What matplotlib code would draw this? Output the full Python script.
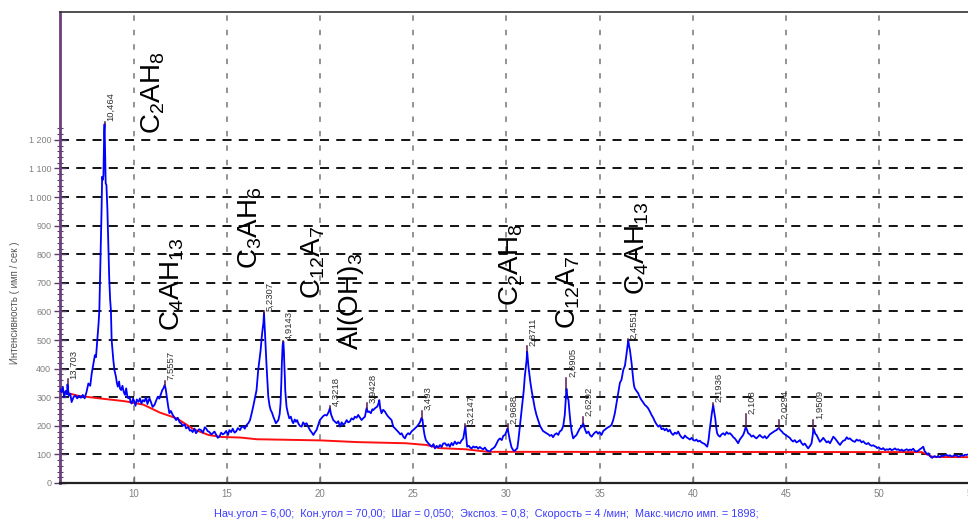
import matplotlib
matplotlib.use('Agg')
import matplotlib.pyplot as plt
import numpy as np
from matplotlib.ticker import FixedLocator, FixedFormatter

# ---------------- data ----------------
two_theta = [6.00, 6.10, 6.18, 6.25, 6.33, 6.40, 6.43, 6.50, 6.58, 6.65, 6.75, 6.85, 6.95, 7.05, 7.15, 7.25,
             7.35, 7.45, 7.55, 7.65, 7.73, 7.82, 7.90, 7.96, 8.03, 8.10, 8.14, 8.18, 8.22, 8.26, 8.29, 8.33,
             8.36, 8.40, 8.42, 8.45, 8.48, 8.52, 8.57, 8.62, 8.67, 8.72, 8.76, 8.80, 8.85, 8.89, 8.95, 9.03,
             9.08, 9.13, 9.20, 9.25, 9.31, 9.38, 9.45, 9.52, 9.58, 9.65, 9.70, 9.76, 9.82, 9.88, 9.95, 10.00,
             10.08, 10.15, 10.25, 10.32, 10.40, 10.48, 10.56, 10.65, 10.72, 10.83, 10.90, 11.00, 11.10, 11.20,
             11.28, 11.36, 11.46, 11.52, 11.58, 11.65, 11.70, 11.76, 11.83, 11.90, 11.98, 12.08, 12.16, 12.26,
             12.35, 12.45, 12.53, 12.62, 12.72, 12.80, 12.90, 13.00, 13.07, 13.15, 13.25, 13.33, 13.42, 13.50,
             13.60, 13.70, 13.80, 13.87, 13.95, 14.05, 14.15, 14.23, 14.32, 14.42, 14.50, 14.59, 14.68, 14.77,
             14.86, 14.95, 15.05, 15.12, 15.22, 15.30, 15.40, 15.48, 15.58, 15.69, 15.78, 15.87, 15.95, 16.05,
             16.15, 16.23, 16.32, 16.40, 16.50, 16.58, 16.67, 16.75, 16.80, 16.86, 16.90, 16.95, 16.98, 17.02,
             17.05, 17.09, 17.12, 17.17, 17.21, 17.28, 17.34, 17.41, 17.48, 17.55, 17.62, 17.68, 17.75, 17.82,
             17.87, 17.91, 17.94, 17.98, 18.02, 18.05, 18.07, 18.10, 18.12, 18.16, 18.19, 18.26, 18.34, 18.42,
             18.50, 18.55, 18.63, 18.70, 18.76, 18.82, 18.90, 19.00, 19.08, 19.16, 19.27, 19.36, 19.45, 19.55,
             19.63, 19.72, 19.80, 19.90, 19.98, 20.08, 20.16, 20.25, 20.35, 20.45, 20.52, 20.58, 20.65, 20.70,
             20.80, 20.88, 20.97, 21.06, 21.15, 21.24, 21.33, 21.42, 21.50, 21.59, 21.68, 21.78, 21.86, 21.95,
             22.04, 22.12, 22.22, 22.30, 22.40, 22.49, 22.56, 22.63, 22.72, 22.80, 22.85, 22.95, 23.06, 23.12,
             23.17, 23.22, 23.29, 23.38, 23.47, 23.56, 23.65, 23.74, 23.83, 23.92, 24.00, 24.10, 24.20, 24.30,
             24.37, 24.46, 24.55, 24.63, 24.72, 24.80, 24.90, 25.00, 25.08, 25.17, 25.26, 25.35, 25.44, 25.49,
             25.53, 25.60, 25.67, 25.73, 25.80, 25.89, 25.98, 26.08, 26.16, 26.25, 26.33, 26.43, 26.52, 26.60,
             26.70, 26.80, 26.88, 26.96, 27.05, 27.13, 27.23, 27.32, 27.40, 27.50, 27.58, 27.68, 27.74, 27.79,
             27.84, 27.89, 27.98, 28.05, 28.13, 28.22, 28.30, 28.39, 28.48, 28.57, 28.66, 28.75, 28.84, 28.93,
             29.02, 29.11, 29.20, 29.30, 29.38, 29.47, 29.56, 29.65, 29.75, 29.83, 29.92, 30.00, 30.06, 30.12,
             30.18, 30.27, 30.36, 30.45, 30.52, 30.58, 30.64, 30.68, 30.75, 30.81, 30.87, 30.93, 30.98, 31.04,
             31.08, 31.11, 31.15, 31.18, 31.23, 31.29, 31.36, 31.44, 31.52, 31.61, 31.70, 31.80, 31.88, 31.96,
             32.05, 32.15, 32.25, 32.33, 32.42, 32.50, 32.60, 32.69, 32.78, 32.86, 32.96, 33.05, 33.13, 33.18,
             33.22, 33.27, 33.33, 33.38, 33.44, 33.50, 33.58, 33.66, 33.76, 33.85, 33.94, 34.03, 34.12, 34.20,
             34.30, 34.40, 34.48, 34.57, 34.66, 34.74, 34.83, 34.92, 35.00, 35.10, 35.20, 35.28, 35.37, 35.46,
             35.55, 35.64, 35.73, 35.82, 35.91, 36.00, 36.09, 36.18, 36.27, 36.36, 36.45, 36.50, 36.54, 36.58,
             36.63, 36.68, 36.72, 36.77, 36.81, 36.85, 36.89, 36.98, 37.07, 37.16, 37.25, 37.34, 37.43, 37.52,
             37.61, 37.70, 37.79, 37.88, 37.97, 38.06, 38.15, 38.24, 38.33, 38.42, 38.50, 38.59, 38.68, 38.77,
             38.86, 38.95, 39.04, 39.13, 39.22, 39.31, 39.40, 39.49, 39.58, 39.67, 39.76, 39.85, 39.94, 40.03,
             40.12, 40.20, 40.29, 40.38, 40.47, 40.56, 40.65, 40.73, 40.78, 40.85, 40.91, 40.96, 41.03, 41.10,
             41.15, 41.21, 41.26, 41.31, 41.38, 41.46, 41.55, 41.64, 41.73, 41.82, 41.91, 42.00, 42.09, 42.18,
             42.26, 42.35, 42.44, 42.53, 42.62, 42.71, 42.78, 42.85, 42.91, 42.98, 43.07, 43.16, 43.25, 43.34,
             43.42, 43.51, 43.60, 43.69, 43.78, 43.87, 43.96, 44.05, 44.14, 44.23, 44.32, 44.41, 44.50, 44.57,
             44.64, 44.72, 44.79, 44.86, 44.95, 45.04, 45.12, 45.21, 45.30, 45.39, 45.48, 45.57, 45.66, 45.76,
             45.84, 45.93, 46.02, 46.12, 46.20, 46.30, 46.38, 46.44, 46.48, 46.52, 46.58, 46.65, 46.74, 46.83,
             46.92, 47.01, 47.10, 47.19, 47.28, 47.37, 47.46, 47.55, 47.64, 47.73, 47.82, 47.91, 48.00, 48.09,
             48.18, 48.27, 48.35, 48.44, 48.53, 48.62, 48.71, 48.80, 48.89, 48.98, 49.07, 49.16, 49.25, 49.34,
             49.43, 49.52, 49.61, 49.70, 49.78, 49.84, 49.90, 49.98, 50.05, 50.14, 50.23, 50.32, 50.41, 50.50,
             50.59, 50.68, 50.77, 50.86, 50.95, 51.04, 51.13, 51.22, 51.31, 51.40, 51.49, 51.58, 51.67, 51.75,
             51.84, 51.93, 52.02, 52.11, 52.20, 52.29, 52.38, 52.45, 52.52, 52.58, 52.65, 52.72, 52.80, 52.86,
             52.92, 53.00, 53.10, 53.18, 53.27, 53.36, 53.45, 53.54, 53.63, 53.72, 53.81, 53.90, 53.99, 54.08,
             54.17, 54.26, 54.35, 54.44, 54.53, 54.62, 54.70, 54.78]

intensity = [330, 318, 335, 300, 322, 310, 345, 305, 312, 283, 300, 306, 296, 305, 298, 308,
             296, 318, 348, 340, 383, 418, 447, 440, 500, 560, 605, 721, 844, 960, 1071, 1060,
             1077, 1230, 1255, 1150, 1048, 1042, 960, 838, 716, 640, 605, 500, 460, 430, 395, 372,
             350, 337, 355, 330, 325, 340, 318, 308, 331, 300, 296, 302, 282, 278, 295, 288,
             270, 292, 284, 296, 278, 290, 285, 300, 276, 296, 285, 266, 273, 290,
             302, 295, 314, 325, 331, 343, 330, 302, 270, 244, 252, 238, 230, 220,
             228, 212, 209, 200, 205, 191, 196, 183, 185, 178, 190, 174, 182, 188,
             185, 176, 195, 191, 182, 178, 170, 174, 180, 168, 158, 162, 176, 170,
             174, 182, 168, 185, 178, 190, 176, 180, 192, 185, 196, 197, 190, 203,
             210, 220, 244, 267, 300, 325, 395, 440, 465, 510, 535, 560, 595, 540,
             500, 450, 407, 350, 302, 270, 255, 246, 232, 220, 209, 214, 220, 240,
             279, 350, 419, 480, 494, 460, 419, 370, 325, 290, 267, 245, 226, 232,
             215, 209, 222, 214, 220, 209, 200, 197, 212, 205, 209, 196, 185, 176,
             168, 178, 185, 205, 220, 228, 234, 238, 236, 248, 262, 240, 228, 220,
             214, 209, 216, 197, 212, 204, 209, 220, 212, 215, 226, 222, 232, 228,
             238, 230, 220, 226, 232, 262, 248, 250, 244, 258, 255, 262, 267, 276,
             290, 262, 244, 256, 250, 240, 232, 226, 220, 197, 192, 185, 178, 170,
             174, 162, 156, 168, 174, 170, 180, 186, 191, 196, 203, 212, 228, 222,
             197, 168, 150, 145, 139, 133, 127, 136, 121, 130, 124, 133, 126, 138,
             139, 130, 136, 127, 140, 132, 145, 136, 142, 139, 148, 156, 180, 199,
             160, 127, 130, 124, 121, 128, 124, 127, 120, 126, 121, 118, 124, 115,
             112, 110, 118, 122, 127, 138, 150, 156, 150, 165, 168, 180, 191, 170,
             150, 125, 115, 112, 118, 121, 150, 174, 215, 255, 290, 325, 370, 407,
             430, 460, 430, 407, 380, 349, 320, 290, 262, 238, 220, 200, 191, 182,
             178, 174, 170, 165, 168, 160, 170, 174, 168, 180, 185, 200, 238, 290,
             330, 300, 290, 250, 209, 180, 156, 162, 168, 180, 191, 196, 209, 190,
             174, 180, 168, 162, 170, 176, 180, 172, 178, 168, 182, 186, 191, 195,
             198, 203, 220, 244, 280, 314, 350, 362, 395, 410, 453, 480, 500, 480,
             465, 440, 418, 385, 360, 340, 331, 322, 314, 300, 290, 282, 273, 268,
             261, 250, 238, 228, 215, 205, 197, 202, 188, 191, 184, 190, 180, 186,
             174, 168, 176, 172, 180, 168, 160, 156, 166, 160, 156, 152, 158, 150,
             148, 152, 145, 148, 142, 139, 136, 130, 127, 150, 185, 209, 245, 273,
             250, 226, 195, 174, 166, 162, 170, 174, 168, 178, 172, 174, 168, 160,
             156, 148, 139, 152, 160, 168, 180, 197, 186, 174, 170, 162, 166, 160,
             156, 162, 168, 162, 158, 164, 156, 162, 170, 174, 178, 182, 185, 190,
             191, 184, 180, 174, 170, 166, 162, 158, 150, 145, 150, 142, 145, 150,
             140, 133, 138, 128, 121, 130, 139, 165, 190, 185, 172, 168, 156, 144,
             150, 158, 150, 142, 146, 139, 150, 162, 156, 148, 140, 133, 142, 148,
             150, 160, 154, 156, 150, 146, 144, 152, 148, 150, 142, 146, 139, 136,
             140, 133, 130, 132, 128, 127, 122, 125, 121, 118, 122, 115, 118, 116,
             120, 115, 117, 121, 116, 118, 113, 117, 112, 115, 118, 114, 117, 115,
             120, 112, 110, 113, 118, 122, 127, 112, 106, 100, 104, 96, 90, 88,
             92, 94, 90, 95, 90, 96, 94, 98, 98, 95, 97, 93, 94, 98,
             96, 92, 94, 97, 95, 99, 98, 100]

background_x = [6.0, 7.0, 8.0, 9.5, 10.5, 11.4, 12.3, 13.2, 14.0, 14.7, 15.7, 16.6, 20.0, 22.0,
                24.6, 25.7, 26.4, 27.8, 29.0, 52.3, 52.9, 56.5]
background_y = [322, 305, 297, 286, 274, 246, 226, 188, 168, 161, 159, 153, 149, 143,
                139, 133, 122, 118, 109, 108, 91, 90]

peak_pos = [6.43, 8.42, 11.65, 16.98, 18.02, 20.52, 22.49, 25.46, 27.78, 30.06, 31.11, 33.22,
            34.12, 36.54, 41.10, 42.85, 44.62, 46.48]
peak_top = [362, 1262, 358, 600, 498, 268, 278, 252, 205, 205, 478, 368, 232, 502, 281, 240, 222, 222]
peak_labels = ['13,703', '10,464', '7,5557', '5,2307', '4,9143', '4,3218', '3,9428', '3,493',
               '3,2147', '2,9688', '2,8711', '2,6905', '2,6292', '2,4551', '2,1936', '2,108',
               '2,0294', '1,9509']

phase_x = [11.05, 12.05, 16.23, 19.6, 21.65, 30.27, 33.3, 37.0]
phase_y = [1365, 695, 892, 773, 633, 765, 668, 820]
phase_labels = [r'$\mathregular{C_2AH_8}$', r'$\mathregular{C_4AH_{13}}$', r'$\mathregular{C_3AH_6}$',
                r'$\mathregular{C_{12}A_7}$', r'$\mathregular{Al(OH)_3}$', r'$\mathregular{C_2AH_8}$',
                r'$\mathregular{C_{12}A_7}$', r'$\mathregular{C_4AH_{13}}$']

x_ticks = [10, 15, 20, 25, 30, 35, 40, 45, 50, 55]
y_ticks = [0, 100, 200, 300, 400, 500, 600, 700, 800, 900, 1000, 1100, 1200]
y_tick_labels = ['0', '100', '200', '300', '400', '500', '600', '700', '800', '900',
                 '1 000', '1 100', '1 200']

y_title = 'Интенсивность ( имп / сек )'
info_text = ('Нач.угол = 6,00;  Кон.угол = 70,00;  Шаг = 0,050;  Экспоз. = 0,8;  '
             'Скорость = 4 /мин;  Макс.число имп. = 1898;')

# ---------------- figure ----------------
plt.rcParams['font.family'] = ['Liberation Sans', 'DejaVu Sans']

fig = plt.figure(figsize=(9.68, 5.21), dpi=100)
ax = fig.add_axes([59.5 / 968, 38 / 521, (1000 - 59.5) / 968, 471 / 521])
ax.set_xlim(6, 56.5)
ax.set_ylim(0, 1647)

# grids
ax.set_axisbelow(True)
ax.xaxis.set_major_locator(FixedLocator(x_ticks))
ax.yaxis.set_major_locator(FixedLocator(y_ticks))
ax.yaxis.set_major_formatter(FixedFormatter(y_tick_labels))
ax.yaxis.set_minor_locator(FixedLocator(list(range(0, 1241, 20))))
ax.xaxis.grid(True, color='#8a8a8a', linestyle=(0, (3, 5)), linewidth=1.3)
ax.yaxis.grid(True, color='black', linestyle=(0, (5, 4)), linewidth=1.3)

# curves
ax.plot(background_x, background_y, color='#ff1010', lw=1.4, zorder=3)
ax.plot(two_theta, intensity, color='#0000ff', lw=1.3, zorder=4)

# peak markers and labels
for pos, top, lab in zip(peak_pos, peak_top, peak_labels):
    base = np.interp(pos, two_theta, intensity)
    ax.plot([pos, pos], [base, top], color='#5a1a50', lw=1.1, zorder=5)
    ax.annotate(lab, (pos, top), xytext=(1.0, 0.5), textcoords='offset points',
                rotation=90, ha='left', va='bottom', fontsize=6.8, color='#303030',
                zorder=6)

# phase labels
for px, py, lab in zip(phase_x, phase_y, phase_labels):
    ax.text(px, py, lab, rotation=90, ha='center', va='center', fontsize=20,
            color='black', zorder=6)

# spines / ticks
ax.spines['left'].set_color('#6a3f7a')
ax.spines['left'].set_linewidth(2.0)
ax.spines['bottom'].set_color('#222222')
ax.spines['bottom'].set_linewidth(1.6)
ax.spines['top'].set_color('#333333')
ax.spines['top'].set_linewidth(1.2)
ax.spines['right'].set_visible(False)

ax.tick_params(axis='x', which='major', direction='in', length=5, width=1, color='#777777',
               labelsize=7, labelcolor='#808080', pad=4)
ax.tick_params(axis='y', which='major', direction='inout', length=8, width=1, color='#5a3a6a',
               labelsize=6.5, labelcolor='#808080', pad=2)
ax.tick_params(axis='y', which='minor', direction='inout', length=4, width=0.8, color='#5a3a6a')

fig.text(15 / 968, 1 - 303 / 521, y_title, rotation=90, ha='center', va='center',
         fontsize=7, color='#555555')
fig.text(486 / 968, 1 - 514 / 521, info_text, ha='center', va='center',
         fontsize=7.8, color='#3b3bff')

fig.savefig('out.png', dpi=100)
